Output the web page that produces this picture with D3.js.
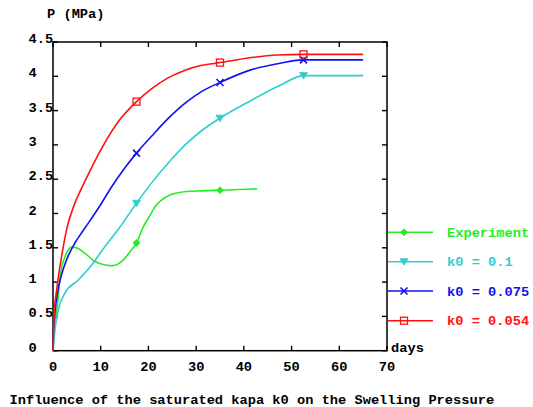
<!DOCTYPE html>
<html>
<head>
<meta charset="utf-8">
<script src="https://cdn.jsdelivr.net/npm/d3@7/dist/d3.min.js"></script>
<style>
  html, body { margin: 0; padding: 0; background: #fff; }
  svg text { font-family: "Liberation Mono", "Courier New", monospace; font-weight: bold; font-size: 13.7px; }
</style>
</head>
<body>
<svg id="chart" width="533" height="407"></svg>
<script>
// ---- data ----
const xTicks = [0, 10, 20, 30, 40, 50, 60, 70];
const yTicks = [0, 0.5, 1, 1.5, 2, 2.5, 3, 3.5, 4, 4.5];
const yTickLabels = ["0", "0.5", "1", "1.5", "2", "2.5", "3", "3.5", "4", "4.5"];
const markerDays = [17.5, 35, 52.5];

const expDays = [0, 0.2, 0.8, 1.5, 2.5, 4, 5.3, 6.7, 8.8, 10.9, 12.5, 14.7, 16.1, 17.5, 18.9, 20.3, 21.5, 22.8, 24.5, 26, 28, 31, 35, 39, 42.8];
const expP    = [0, 0.26, 0.59, 1.08, 1.37, 1.51, 1.49, 1.42, 1.3, 1.25, 1.24, 1.32, 1.44, 1.57, 1.8, 1.97, 2.11, 2.2, 2.27, 2.3, 2.32, 2.33, 2.34, 2.35, 2.36];

const k010Days = [0, 0.4, 1.1, 2.5, 5.3, 8.1, 10.9, 14, 17.5, 20.7, 24.2, 27.7, 31.2, 35, 41.3, 47.6, 52.5, 58, 65];
const k010P    = [0, 0.3, 0.59, 0.84, 1.03, 1.25, 1.52, 1.8, 2.15, 2.45, 2.74, 3.0, 3.21, 3.39, 3.64, 3.87, 4.01, 4.01, 4.01];

const k075Days = [0, 0.1, 0.4, 1.1, 2.2, 3.3, 4.6, 6, 7.4, 9.9, 12.3, 15, 17.5, 20.7, 24.2, 27.7, 31.2, 35, 41.3, 47.6, 52.5, 58, 65];
const k075P    = [0, 0.28, 0.55, 0.9, 1.2, 1.4, 1.57, 1.72, 1.86, 2.12, 2.39, 2.66, 2.88, 3.13, 3.39, 3.61, 3.78, 3.91, 4.09, 4.19, 4.24, 4.24, 4.24];

const k054Days = [0, 0.2, 0.8, 1.8, 2.9, 4.3, 6, 7.8, 10.2, 13.7, 17.5, 20.7, 24.2, 27.7, 31.2, 35, 41.3, 47, 52.5, 58, 65];
const k054P    = [0, 0.5, 0.9, 1.37, 1.78, 2.1, 2.37, 2.63, 2.95, 3.34, 3.63, 3.82, 3.98, 4.09, 4.16, 4.2, 4.27, 4.31, 4.32, 4.32, 4.32];

const seriesNames = ["Experiment", "k0 = 0.1", "k0 = 0.075", "k0 = 0.054"];
const seriesColors = ["#22ee22", "#33cccc", "#1111ee", "#ff1111"];
const seriesMarkers = ["diamond", "triangle", "cross", "square"];

(function () {
  // ---- layout ----
  const svg = d3.select("#chart");
  const mLeft = 53, mRight = 387, mTop = 42, mBottom = 350.7;
  const x = d3.scaleLinear().domain([0, 70]).range([mLeft, mRight]);
  const y = d3.scaleLinear().domain([0, 4.5]).range([mBottom, mTop]);

  const series = [
    {days: expDays, p: expP},
    {days: k010Days, p: k010P},
    {days: k075Days, p: k075P},
    {days: k054Days, p: k054P}
  ].map((s, i) => ({
    name: seriesNames[i], color: seriesColors[i], marker: seriesMarkers[i],
    pts: s.days.map((d, j) => ({d: d, p: s.p[j]}))
  }));

  // frame
  svg.append("rect").attr("x", mLeft).attr("y", mTop)
    .attr("width", mRight - mLeft).attr("height", mBottom - mTop)
    .attr("fill", "none").attr("stroke", "#000").attr("stroke-width", 1.5);

  // ticks (inward on all four sides)
  const tl = 5;
  const g = svg.append("g").attr("stroke", "#000").attr("stroke-width", 1.4);
  xTicks.forEach(t => {
    g.append("line").attr("x1", x(t)).attr("x2", x(t)).attr("y1", mBottom).attr("y2", mBottom - tl);
    g.append("line").attr("x1", x(t)).attr("x2", x(t)).attr("y1", mTop).attr("y2", mTop + tl);
  });
  yTicks.forEach(t => {
    g.append("line").attr("x1", mLeft).attr("x2", mLeft + tl).attr("y1", y(t)).attr("y2", y(t));
    g.append("line").attr("x1", mRight).attr("x2", mRight - tl).attr("y1", y(t)).attr("y2", y(t));
  });

  // tick labels
  xTicks.forEach(t => {
    svg.append("text").attr("x", x(t)).attr("y", 371).attr("text-anchor", "middle").text(String(t));
  });
  yTicks.forEach((t, i) => {
    svg.append("text").attr("x", 28.5).attr("y", y(t) + 1).text(yTickLabels[i]);
  });

  // axis titles
  svg.append("text").attr("x", 47).attr("y", 18).text("P (MPa)");
  svg.append("text").attr("x", 391).attr("y", 352).text("days");
  svg.append("text").attr("x", 9.5).attr("y", 404).text("Influence of the saturated kapa k0 on the Swelling Pressure");

  // curves
  const line = d3.line().x(d => x(d.d)).y(d => y(d.p)).curve(d3.curveMonotoneX);
  const plot = svg.append("g");
  series.forEach(s => {
    plot.append("path").attr("d", line(s.pts)).attr("fill", "none")
      .attr("stroke", s.color).attr("stroke-width", 1.6);
  });

  function drawMarker(parent, type, cx, cy, color) {
    if (type === "diamond") {
      parent.append("path").attr("d", `M${cx},${cy-3.5}L${cx+3.5},${cy}L${cx},${cy+3.5}L${cx-3.5},${cy}Z`)
        .attr("fill", color).attr("stroke", color).attr("stroke-width", 0.8);
    } else if (type === "triangle") {
      parent.append("path").attr("d", `M${cx-4},${cy-3}L${cx+4},${cy-3}L${cx},${cy+3.5}Z`)
        .attr("fill", color).attr("stroke", color).attr("stroke-width", 0.8);
    } else if (type === "cross") {
      parent.append("path").attr("d", `M${cx-3.5},${cy-3.5}L${cx+3.5},${cy+3.5}M${cx-3.5},${cy+3.5}L${cx+3.5},${cy-3.5}`)
        .attr("stroke", color).attr("stroke-width", 1.6);
    } else if (type === "square") {
      parent.append("rect").attr("x", cx - 3.5).attr("y", cy - 3.5).attr("width", 7).attr("height", 7)
        .attr("fill", "none").attr("stroke", color).attr("stroke-width", 1.3);
    }
  }

  series.forEach(s => {
    s.pts.filter(pt => markerDays.includes(pt.d)).forEach(pt => {
      drawMarker(plot, s.marker, x(pt.d), y(pt.p), s.color);
    });
  });

  // legend
  const legY = [232.3, 261.7, 291, 320.7];
  series.forEach((s, i) => {
    svg.append("line").attr("x1", 388).attr("x2", 433).attr("y1", legY[i]).attr("y2", legY[i])
      .attr("stroke", s.color).attr("stroke-width", 1.6);
    drawMarker(svg, s.marker, 404, legY[i], s.color);
    svg.append("text").attr("x", 447).attr("y", legY[i] + 4.5).attr("fill", s.color).text(s.name);
  });
})();
</script>
</body>
</html>
